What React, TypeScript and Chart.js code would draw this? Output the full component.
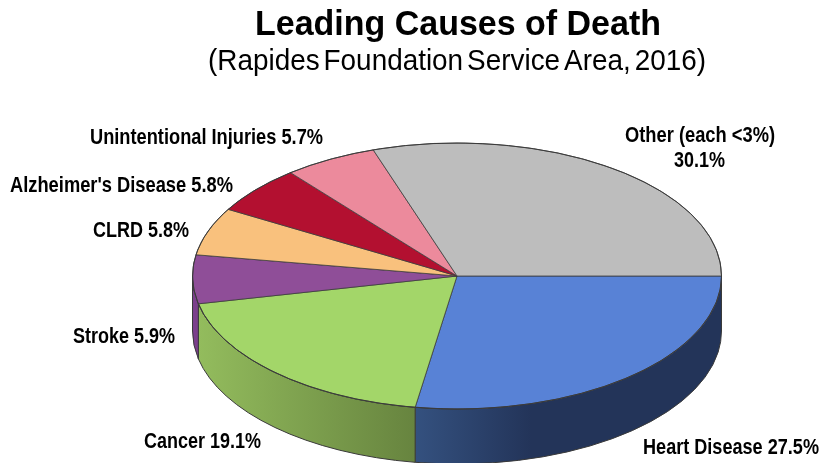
import React, { useEffect, useRef } from "react";
import { Chart, registerables } from "chart.js";

Chart.register(...registerables);

const categories = ["Heart Disease", "Cancer", "Stroke", "CLRD", "Alzheimer's Disease", "Unintentional Injuries", "Other (each <3%)"];
const shares = [27.5, 19.1, 5.9, 5.8, 5.8, 5.7, 30.1];
const topColors = ["#5882d6", "#a3d669", "#8f4e98", "#f9c17d", "#b31030", "#ec8a9c", "#bdbdbd"];
const wallStops: Array<Array<[number, string]>> = [
  [[0, "#34517f"], [0.38, "#233459"], [1, "#233459"]],
  [[0, "#93bc5d"], [1, "#67843f"]],
  [[0, "#7b3f8c"], [1, "#7b3f8c"]],
];

const titleText = "Leading Causes of Death";
const subtitleText = "(Rapides Foundation Service Area, 2016)";

const CX = 457;
const CY = 276;
const RX = 264.5;
const RY = 133;
const DEPTH = 55;
const EDGE = "#3a3a3a";
const FONT = '"Liberation Sans", Arial, sans-serif';

// [text, left, baseline, width]
const labelLayout: Array<[string, number, number, number]> = [
  [`${categories[5]} ${shares[5]}%`, 90, 144, 233],
  [`${categories[4]} ${shares[4]}%`, 10, 192, 223],
  [`${categories[3]} ${shares[3]}%`, 93, 237, 96],
  [`${categories[2]} ${shares[2]}%`, 73, 343, 102],
  [`${categories[1]} ${shares[1]}%`, 144, 448, 117],
  [`${categories[0]} ${shares[0]}%`, 643, 454, 176],
  [categories[6], 625, 142, 150],
  [`${shares[6]}%`, 674, 167, 51],
];

const pie3d = {
  id: "pie3d",
  beforeDatasetsDraw(chart: any) {
    const { ctx } = chart;
    const arcs = chart.getDatasetMeta(0).data;
    arcs.forEach((arc: any, i: number) => {
      const stops = wallStops[i];
      if (!stops) return;
      const a0 = Math.max(arc.startAngle, 0);
      const a1 = Math.min(arc.endAngle, Math.PI);
      if (a1 <= a0) return;
      const xa = arc.x + RX * Math.cos(a1);
      const xb = arc.x + RX * Math.cos(a0);
      const grad = ctx.createLinearGradient(xa, 0, xb, 0);
      stops.forEach(([o, c]) => grad.addColorStop(o, c));
      ctx.beginPath();
      ctx.ellipse(arc.x, arc.y, RX, RY, 0, a0, a1);
      ctx.ellipse(arc.x, arc.y + DEPTH, RX, RY, 0, a1, a0, true);
      ctx.closePath();
      ctx.fillStyle = grad;
      ctx.fill();
      ctx.strokeStyle = EDGE;
      ctx.lineWidth = 1;
      ctx.stroke();
    });
    ctx.save();
    ctx.translate(CX, CY);
    ctx.scale(1, RY / RX);
    ctx.translate(-CX, -CY);
  },
  afterDatasetsDraw(chart: any) {
    const { ctx } = chart;
    ctx.restore();
    ctx.beginPath();
    ctx.ellipse(CX, CY, RX, RY, 0, 0, Math.PI * 2);
    ctx.strokeStyle = EDGE;
    ctx.lineWidth = 1;
    ctx.stroke();
  },
  afterDraw(chart: any) {
    const { ctx } = chart;
    ctx.save();
    ctx.fillStyle = "#000";
    ctx.textAlign = "left";
    ctx.textBaseline = "alphabetic";
    ctx.font = `bold 35px ${FONT}`;
    ctx.fillText(titleText, 255, 35, 406);
    ctx.font = `29.5px ${FONT}`;
    ctx.wordSpacing = "-4px";
    ctx.fillText(subtitleText, 208, 70, 498);
    ctx.wordSpacing = "0px";
    ctx.font = `bold 22px ${FONT}`;
    labelLayout.forEach(([t, x, y, w]) => ctx.fillText(t, x, y, w));
    ctx.restore();
  },
};

export default function App() {
  const ref = useRef<HTMLCanvasElement>(null);
  useEffect(() => {
    const chart = new Chart(ref.current as HTMLCanvasElement, {
      type: "pie",
      data: {
        labels: categories,
        datasets: [
          {
            data: shares,
            backgroundColor: topColors,
            borderColor: EDGE,
            borderWidth: 1,
            clip: false,
          } as any,
        ],
      },
      options: {
        responsive: false,
        animation: false,
        events: [],
        rotation: 90,
        radius: RX,
        layout: { padding: { left: 91, top: 89 } },
        plugins: { legend: { display: false }, title: { display: false }, tooltip: { enabled: false } },
      } as any,
      plugins: [pie3d],
    });
    return () => chart.destroy();
  }, []);
  return (
    <div style={{ position: "absolute", left: 0, top: 0, width: 823, height: 463, overflow: "hidden", background: "#fff" }}>
      <canvas ref={ref} width={823} height={463} style={{ display: "block" }} />
    </div>
  );
}
